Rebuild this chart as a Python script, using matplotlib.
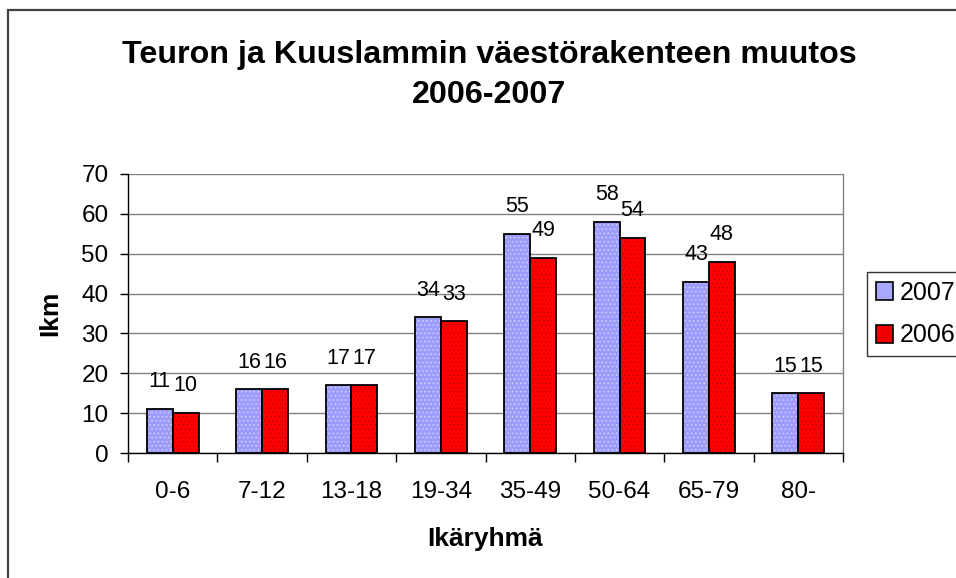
import matplotlib
matplotlib.use("Agg")
import matplotlib.pyplot as plt
import numpy as np
from matplotlib.patches import Patch, Rectangle

plt.rcParams['font.family'] = ['Liberation Sans', 'DejaVu Sans']

# data
groups = ["0-6", "7-12", "13-18", "19-34", "35-49", "50-64", "65-79", "80-"]
v2007 = [11, 16, 17, 34, 55, 58, 43, 15]
v2006 = [10, 16, 17, 33, 49, 54, 48, 15]
title_lines = ["Teuron ja Kuuslammin väestörakenteen muutos", "2006-2007"]

W, H = 956, 578
fig = plt.figure(figsize=(W / 100, H / 100), dpi=100)
ax = fig.add_axes([128 / W, 1 - 453 / H, 715 / W, 279 / H])

x = np.arange(len(groups))
bw = 0.29

# bars: textured fill first, black outline on top
plt.rcParams['hatch.linewidth'] = 0.6
b1 = ax.bar(x - bw / 2, v2007, bw, color="#9c9cff", edgecolor="#d4d4ff",
            linewidth=0, hatch="....", zorder=3)
b2 = ax.bar(x + bw / 2, v2006, bw, color="#ff0000", edgecolor="#c00000",
            linewidth=0, hatch="....", zorder=3)
ax.bar(x - bw / 2, v2007, bw, fill=False, edgecolor="black", linewidth=1.3, zorder=4)
ax.bar(x + bw / 2, v2006, bw, fill=False, edgecolor="black", linewidth=1.3, zorder=4)

ax.bar_label(b1, padding=12, fontsize=15.5)
ax.bar_label(b2, padding=12, fontsize=15.5)

ax.set_xlim(-0.5, len(groups) - 0.5)
ax.set_ylim(0, 70)
ax.set_yticks(range(0, 71, 10))
ax.yaxis.grid(True, color="#808080", linewidth=1)
ax.set_axisbelow(True)

ax.set_xticks(x)
ax.set_xticklabels(groups)
ax.set_xticks(np.arange(len(groups) + 1) - 0.5, minor=True)
ax.tick_params(axis="x", which="major", length=0, pad=20, labelsize=17.5)
ax.tick_params(axis="x", which="minor", length=6.5, width=1, direction="out")
ax.tick_params(axis="y", length=6, width=1, direction="out", pad=8, labelsize=17.5)

for side in ["left", "bottom"]:
    ax.spines[side].set_color("black")
    ax.spines[side].set_linewidth(1)
ax.spines["top"].set_visible(False)
ax.spines["right"].set_color("#808080")
ax.spines["right"].set_linewidth(1)

ax.set_xlabel("Ikäryhmä", fontsize=19, fontweight="bold", va="baseline")
ax.xaxis.set_label_coords(0.5, ((H - 546) - (H - 453)) / 279)
ax.set_ylabel("Ikm", fontsize=19, fontweight="bold", va="center")
ax.yaxis.set_label_coords((50 - 128) / 715, 0.5)

# title, two lines placed on their baselines
for line, base in zip(title_lines, [63, 103]):
    fig.text(489 / W, 1 - base / H, line, ha="center", va="baseline",
             fontsize=23.2, fontweight="bold")

handles = [Patch(facecolor="#a8a8ff", edgecolor="black", linewidth=1.2),
           Patch(facecolor="#f00000", edgecolor="black", linewidth=1.2)]
leg = fig.legend(handles, ["2007", "2006"], loc="upper left",
                 bbox_to_anchor=(867 / W, 1 - 272 / H), fontsize=18,
                 frameon=True, fancybox=False, borderpad=0.35, labelspacing=0.75,
                 handlelength=0.7, handleheight=0.7, handletextpad=0.25,
                 borderaxespad=0)
leg.get_frame().set_edgecolor("black")
leg.get_frame().set_linewidth(1)

# chart border (cut off at right and bottom like the original)
fig.add_artist(Rectangle((8 / W, -0.1), 1.2, 1 - 10 / H + 0.1, transform=fig.transFigure,
                         fill=False, edgecolor="#404040", linewidth=1.6))

fig.savefig("out.png", dpi=100)
